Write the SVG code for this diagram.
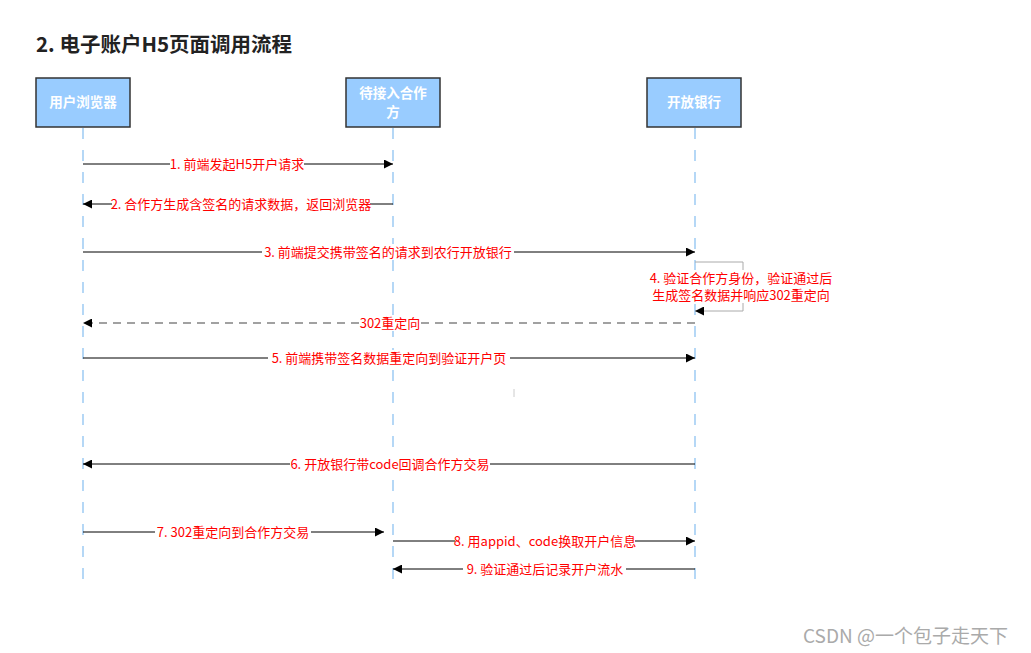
<svg xmlns="http://www.w3.org/2000/svg" width="1031" height="653" viewBox="0 0 1031 653">
<defs>
<marker id="ah" viewBox="0 0 10 10" refX="10" refY="5" markerWidth="10" markerHeight="9" markerUnits="userSpaceOnUse" orient="auto">
<path d="M0,0 L10,5 L0,10 Z" fill="#000"/>
</marker>
</defs>
<style>
.box{fill:#99ccff;stroke:#333;stroke-width:1.5}
.bt{font-family:"Noto Sans CJK SC","Liberation Sans",sans-serif;font-size:13.5px;font-weight:bold;fill:#fff;text-anchor:middle}
.life{stroke:#8ec3f2;stroke-width:1.3;stroke-dasharray:11 11;fill:none}
.msg{stroke:#000;stroke-width:1;fill:none}
.lbl{font-family:"Noto Sans CJK SC","Liberation Sans",sans-serif;font-size:13px;fill:#ff0000;text-anchor:middle}
.bg{fill:#fff}
</style>
<rect width="1031" height="653" fill="#fff"/>
<text x="36" y="52" font-family="Noto Sans CJK SC,Liberation Sans,sans-serif" font-size="20.5" font-weight="bold" fill="#222">2. 电子账户H5页面调用流程</text>

<g id="lifelines">
<line class="life" x1="83" y1="128" x2="83" y2="582"/>
<line class="life" x1="393" y1="128" x2="393" y2="582"/>
<line class="life" x1="695" y1="128" x2="695" y2="582"/>
</g>

<g id="node-browser">
<rect class="box" x="36" y="78" width="94" height="49"/>
<text class="bt" x="83" y="107">用户浏览器</text>
</g>
<g id="node-partner">
<rect class="box" x="346" y="78" width="94" height="49"/>
<text class="bt" x="393" y="98">待接入合作</text>
<text class="bt" x="393" y="117">方</text>
</g>
<g id="node-bank">
<rect class="box" x="647" y="78" width="94" height="49"/>
<text class="bt" x="694" y="107">开放银行</text>
</g>

<g id="connectors">
<line class="msg" x1="83" y1="164" x2="393" y2="164" marker-end="url(#ah)"/>
<line class="msg" x1="393" y1="204" x2="83" y2="204" marker-end="url(#ah)"/>
<line class="msg" x1="83" y1="252" x2="695" y2="252" marker-end="url(#ah)"/>
<path d="M695,262 H743 V311 H695" fill="none" stroke="#aaa" stroke-width="1" marker-end="url(#ah)"/>
<line x1="695" y1="323" x2="83" y2="323" stroke="#444" stroke-width="1.2" stroke-dasharray="8 6" marker-end="url(#ah)"/>
<line class="msg" x1="83" y1="358" x2="695" y2="358" marker-end="url(#ah)"/>
<line class="msg" x1="695" y1="464" x2="83" y2="464" marker-end="url(#ah)"/>
<line class="msg" x1="83" y1="532" x2="384" y2="532" marker-end="url(#ah)"/>
<line class="msg" x1="393" y1="541" x2="695" y2="541" marker-end="url(#ah)"/>
<line class="msg" x1="695" y1="569" x2="393" y2="569" marker-end="url(#ah)"/>
<line x1="514" y1="389" x2="514" y2="397" stroke="#ccc" stroke-width="1"/>
</g>

<g id="labels">
<rect class="bg" x="170" y="156" width="134" height="16"/>
<text class="lbl" x="237" y="168.5">1. 前端发起H5开户请求</text>
<rect class="bg" x="112" y="196" width="258" height="16"/>
<text class="lbl" x="241" y="208.5">2. 合作方生成含签名的请求数据，返回浏览器</text>
<rect class="bg" x="262" y="244" width="252" height="16"/>
<text class="lbl" x="388" y="256.5">3. 前端提交携带签名的请求到农行开放银行</text>
<rect class="bg" x="644" y="270" width="194" height="33"/>
<text class="lbl" x="741" y="283">4. 验证合作方身份，验证通过后</text>
<text class="lbl" x="741" y="300">生成签名数据并响应302重定向</text>
<rect class="bg" x="360" y="315" width="60" height="16"/>
<text class="lbl" x="390" y="327.5">302重定向</text>
<rect class="bg" x="268" y="350" width="242" height="16"/>
<text class="lbl" x="389" y="362.5">5. 前端携带签名数据重定向到验证开户页</text>
<rect class="bg" x="290" y="456" width="200" height="16"/>
<text class="lbl" x="390" y="468.5">6. 开放银行带code回调合作方交易</text>
<rect class="bg" x="155" y="524" width="156" height="16"/>
<text class="lbl" x="233" y="536.5">7. 302重定向到合作方交易</text>
<rect class="bg" x="455" y="533" width="180" height="16"/>
<text class="lbl" x="545" y="545.5">8. 用appid、code换取开户信息</text>
<rect class="bg" x="463" y="561" width="163" height="16"/>
<text class="lbl" x="545" y="573.5">9. 验证通过后记录开户流水</text>
</g>

<text x="803" y="643" font-family="Noto Sans CJK SC,Liberation Sans,sans-serif" font-size="19" fill="#aaa">CSDN @一个包子走天下</text>
</svg>
